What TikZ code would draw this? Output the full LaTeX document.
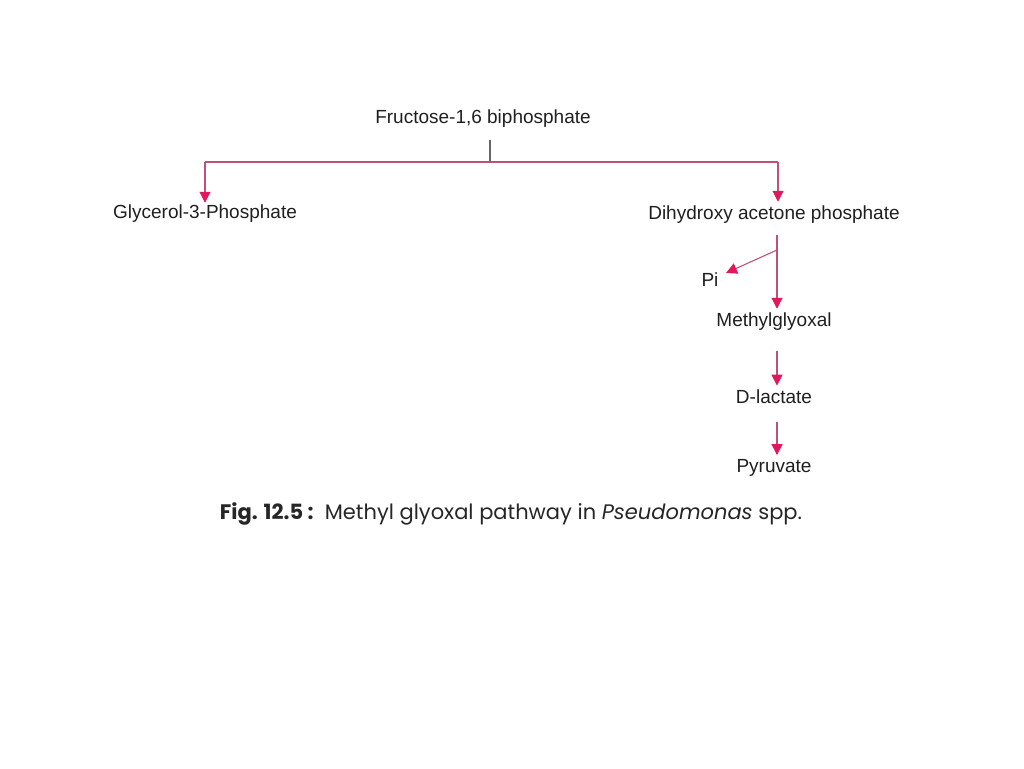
\documentclass[tikz,border=0pt]{standalone}
\usepackage{fontspec}
\setmainfont{Liberation Sans}
\newfontfamily\capfont{Poppins}
\usetikzlibrary{arrows.meta}
\definecolor{lnk}{HTML}{C0507A}
\definecolor{tipc}{HTML}{E2185E}
\begin{document}
\begin{tikzpicture}[x=0.5pt,y=-0.5pt,
  lbl/.style={font=\fontsize{9.5}{11}\selectfont, inner sep=2pt, text=black!88},
  conn/.style={draw=lnk, line width=0.55pt},
  arr/.style={conn, -{Triangle[width=5.5pt,length=5.5pt,fill=tipc,color=tipc]}}]
\useasboundingbox (0,0) rectangle (1024,768);
\coordinate (v) at (777,0);
\node[lbl] (fr) at (483,119) {Fructose-1,6 biphosphate};
\node[lbl] (gly) at (205,214) {Glycerol-3-Phosphate};
\node[lbl] (dhap) at (774,215) {Dihydroxy acetone phosphate};
\node[lbl] (pi) at (710,280) {Pi};
\node[lbl] (mg) at (774,322) {Methylglyoxal};
\node[lbl] (dl) at (774,397) {D-lactate};
\node[lbl] (py) at (774,468) {Pyruvate};
\coordinate (t) at (490,140);
\coordinate (j) at (490,162);
\coordinate (jl) at (205,162);
\coordinate (jr) at (778,162);
\coordinate (d0) at (777,235);
\coordinate (b) at (777,250);
\coordinate (pe) at (726,273);
\draw[conn, draw=black!60] (t) -- (j);
\draw[conn] (jl) -- (jr);
\draw[arr] (jl) -- ([yshift=-1pt]gly.north);
\draw[arr] (jr) -- (dhap.north -| jr);
\draw[arr] (d0) -- (mg.north -| v);
\draw[arr] (b) -- (pe);
\draw[arr] ([yshift=-8pt]mg.south -| v) -- (dl.north -| v);
\draw[arr] ([yshift=-7pt]dl.south -| v) -- (py.north -| v);
\node[font=\capfont\fontsize{10.5}{12}\selectfont, inner sep=0pt, text=black!85] (cap) at (511,514)
  {\textbf{Fig. 12.5 :}\ \ Methyl glyoxal pathway in \textit{Pseudomonas} spp.};
\end{tikzpicture}
\end{document}
